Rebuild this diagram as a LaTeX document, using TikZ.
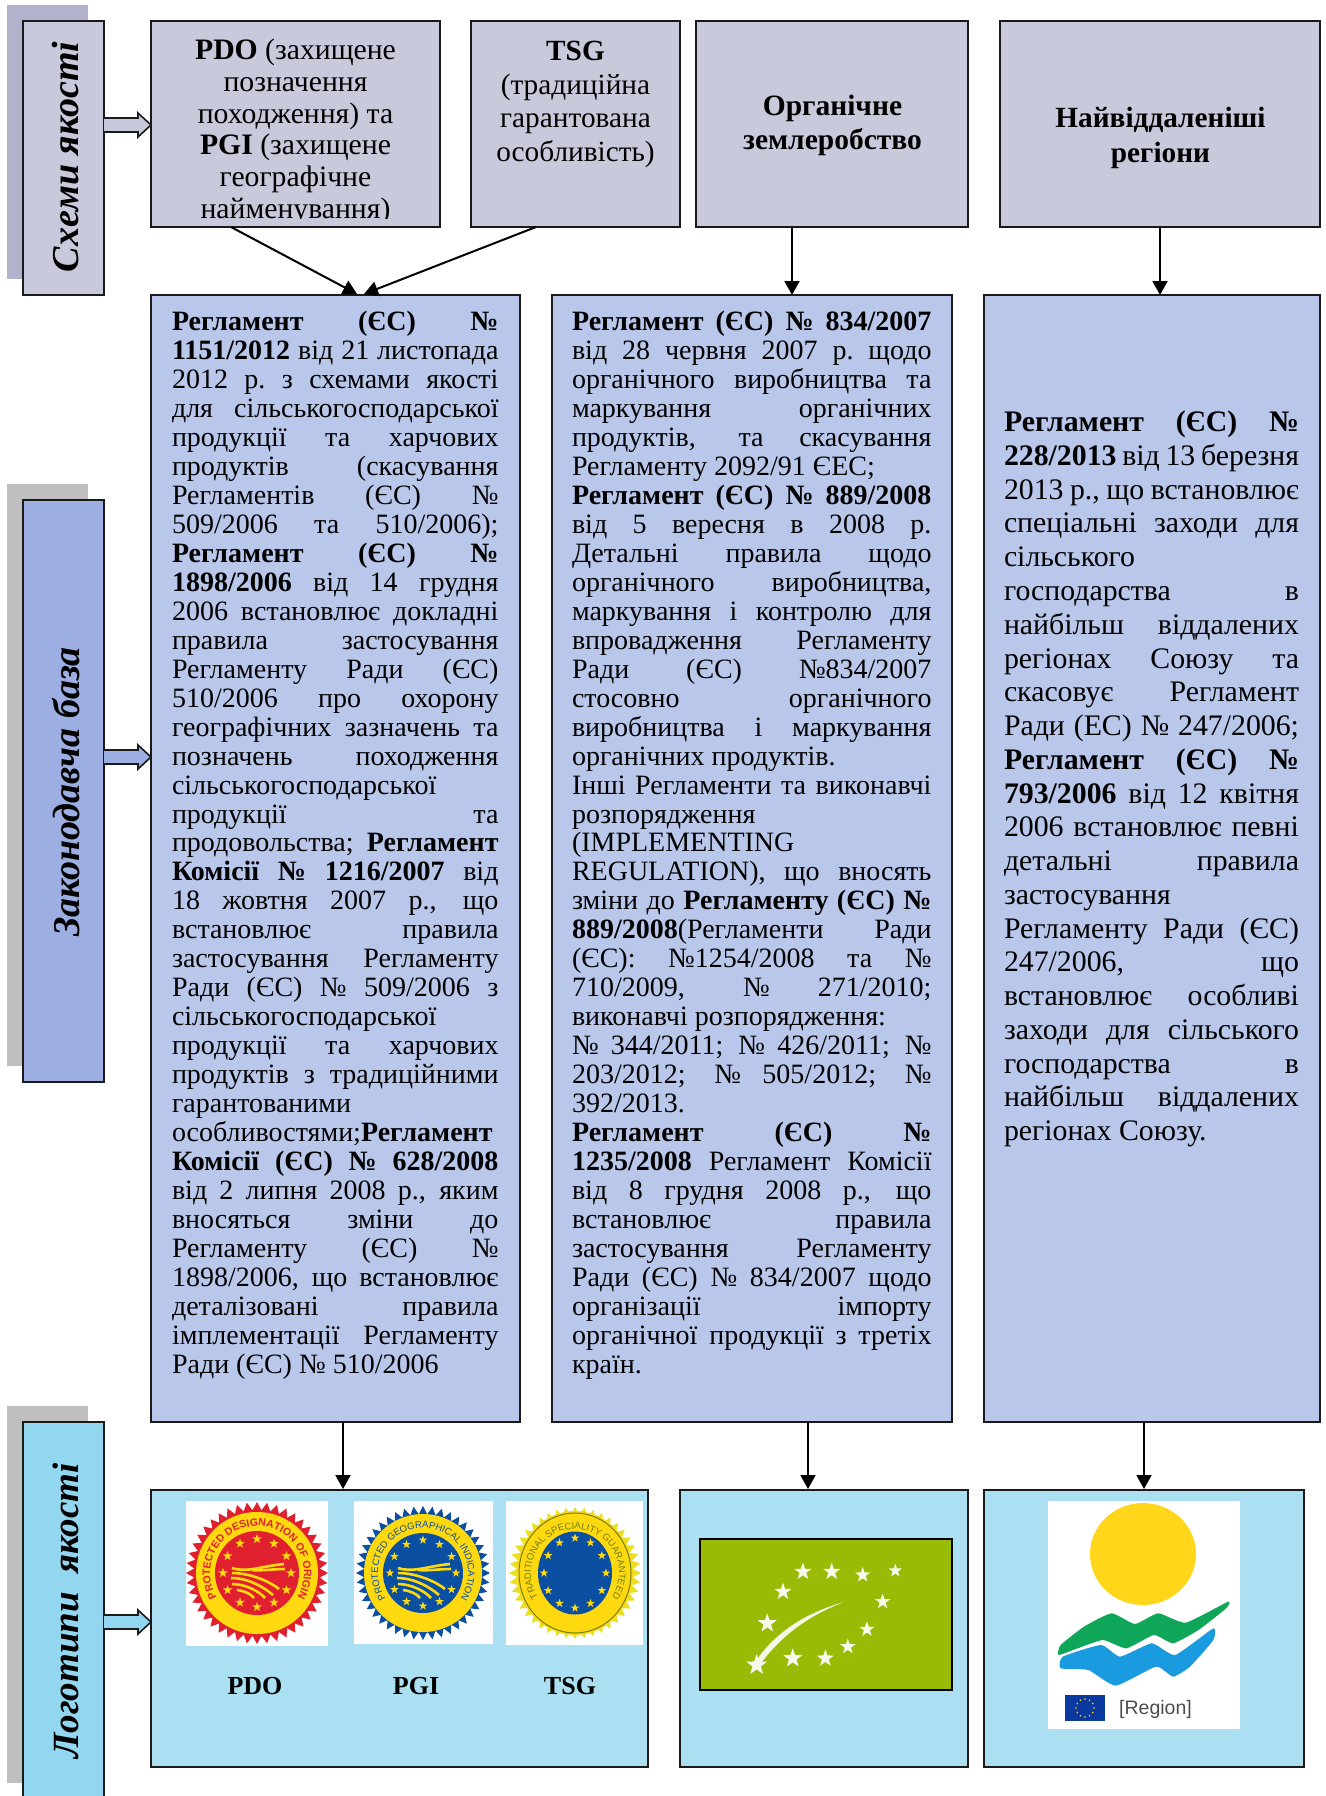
\documentclass[tikz,border=0pt]{standalone}
\usepackage{fontspec}
\setmainfont{Liberation Serif}
\newfontfamily\logosans{Liberation Sans}
\usetikzlibrary{arrows.meta,decorations.text}
\definecolor{topbox}{HTML}{C9C9DC}
\definecolor{topshadow}{HTML}{B2B2CC}
\definecolor{lawbox}{HTML}{B8C7EA}
\definecolor{lawlabel}{HTML}{9DAEE2}
\definecolor{greyshadow}{HTML}{BFBFBF}
\definecolor{logobox}{HTML}{ABE0F3}
\definecolor{logolabel}{HTML}{93D6F0}
\definecolor{edge}{HTML}{1A1A1A}
\definecolor{sealred}{HTML}{E1202F}
\definecolor{sealyellow}{HTML}{FFD90F}
\definecolor{sealblue}{HTML}{0B4FA3}
\definecolor{sealolive}{HTML}{6F7F10}
\definecolor{sealpale}{HTML}{E8E020}
\definecolor{leafgreen}{HTML}{99BB06}
\definecolor{wavegreen}{HTML}{0FA65A}
\definecolor{waveblue}{HTML}{1A9BE0}
\definecolor{sunyellow}{HTML}{FFD61A}
\definecolor{euflag}{HTML}{0B3A9E}
\newcommand\JL[1]{\hbox to \hsize{\spaceskip=.25em plus 1fil minus .12em\xspaceskip=\spaceskip\rule{0pt}{20pt}\rule[-8pt]{0pt}{8pt}\ignorespaces #1}}
\newcommand\LF[1]{\hbox to \hsize{\rule{0pt}{20pt}\rule[-8pt]{0pt}{8pt}\ignorespaces #1\hss}}
\newcommand\CL[1]{\hbox to \hsize{\hss\rule{0pt}{20pt}\rule[-8pt]{0pt}{8pt}\ignorespaces #1\hss}}
\newcommand\textlines[2]{\vbox{\hsize=#1pt\relax #2}}
\newcommand\starat[4]{\fill[#4] plot[samples=11,domain=0:10,variable=\k] ({#1+#3*(1-0.6*mod(round(\k),2))*sin(36*\k)},{#2-#3*(1-0.6*mod(round(\k),2))*cos(36*\k)}) -- cycle;}
\newcommand\blockarrow[4]{%
  \coordinate (ba) at (0,#3);
  \path (#1.east|-ba) coordinate (bs) (#2.west|-ba) coordinate (be);
  \filldraw[draw=edge,line width=1.6pt,fill=#4,line join=miter]
    ([yshift=7pt]bs) -- ([xshift=-13pt,yshift=7pt]be) -- ([xshift=-13pt,yshift=12pt]be) -- (be)
    -- ([xshift=-13pt,yshift=-12pt]be) -- ([xshift=-13pt,yshift=-7pt]be) -- ([yshift=-7pt]bs);}
\newcommand\seal[4]{%
  \fill[#4] plot[samples=89,domain=0:88,variable=\k] ({#1+(#3-8*mod(round(\k),2))*cos(\k*4.0909)},{#2+(#3-8*mod(round(\k),2))*sin(\k*4.0909)}) -- cycle;}
\tikzset{
  x=1pt,y=-1pt,
  boxbase/.style={draw=edge,line width=1.8pt,anchor=north west,inner sep=0pt,outer sep=0pt},
  bodytext/.style={anchor=north west,inner sep=0pt,outer sep=0pt},
  vlabel/.style={rotate=90,inner sep=0pt,font=\bfseries\itshape\fontsize{38}{40}\selectfont},
  link/.style={line width=2pt,-{Triangle[length=14pt,width=15pt]}},
  sealname/.style={inner sep=0pt,font=\bfseries\fontsize{26}{30}\selectfont}
}
\begin{document}
\begin{tikzpicture}
\useasboundingbox (0,0) rectangle (1325,1796);
% shadows
\fill[topshadow] (7,5) rectangle (88,279);
\fill[greyshadow] (7,484) rectangle (88,1066);
\fill[greyshadow] (7,1406) rectangle (88,1783);
% left labels
\node[boxbase,fill=topbox,minimum width=81pt,minimum height=274pt] (labA) at (23,21) {};
\node[boxbase,fill=lawlabel,minimum width=81pt,minimum height=582pt] (labB) at (23,500) {};
\node[boxbase,fill=logolabel,minimum width=81pt,minimum height=400pt] (labC) at (23,1422) {};
\node[vlabel] (labAt) at (66,157) {Схеми якості};
\node[vlabel] (labBt) at (66,792) {Законодавча база};
\node[vlabel,font=\bfseries\itshape\fontsize{37}{40}\selectfont] (labCt) at (66,1611) {Логотипи\hspace{9pt} якості};
% top row
\node[boxbase,fill=topbox,minimum width=289pt,minimum height=206pt] (pdo) at (151,21) {};
\node[boxbase,fill=topbox,minimum width=209pt,minimum height=206pt] (tsg) at (471,21) {};
\node[boxbase,fill=topbox,minimum width=272pt,minimum height=206pt] (org) at (696,21) {};
\node[boxbase,fill=topbox,minimum width=320pt,minimum height=206pt] (reg) at (1000,21) {};
\begin{scope}
\clip (151,21) rectangle (440,218);
\node[bodytext,font=\fontsize{29.7}{31.75}\selectfont] (pdot) at (151,39) {\textlines{289}{%
\CL{\textbf{PDO} (захищене}%
\CL{позначення}%
\CL{походження) та}%
\CL{\textbf{PGI} (захищене}%
\CL{географічне}%
\CL{найменування)}}};
\end{scope}
\node[bodytext,font=\fontsize{29.3}{33.7}\selectfont] (tsgt) at (471,40.5) {\textlines{209}{%
\CL{\textbf{TSG}}%
\CL{(традиційна}%
\CL{гарантована}%
\CL{особливість)}}};
\node[bodytext,font=\bfseries\fontsize{29.5}{34}\selectfont] (orgt) at (696,95.5) {\textlines{273}{%
\CL{Органічне}%
\CL{землеробство}}};
\node[bodytext,font=\bfseries\fontsize{29.3}{35}\selectfont] (regt) at (1000,107) {\textlines{321}{%
\CL{Найвіддаленіші}%
\CL{регіони}}};
% law row
\node[boxbase,fill=lawbox,minimum width=369pt,minimum height=1127pt] (lawA) at (151,295) {};
\node[boxbase,fill=lawbox,minimum width=400pt,minimum height=1127pt] (lawB) at (552,295) {};
\node[boxbase,fill=lawbox,minimum width=336pt,minimum height=1127pt] (lawC) at (984,295) {};
\node[bodytext,font=\fontsize{28}{28.97}\selectfont] (lawAt) at (172,310.5) {\textlines{326.5}{%
\JL{\textbf{Регламент (ЄС) №}}%
\JL{\textbf{1151/2012} від 21 листопада}%
\JL{2012 р. з схемами якості}%
\JL{для сільськогосподарської}%
\JL{продукції та харчових}%
\JL{продуктів (скасування}%
\JL{Регламентів (ЄС) №}%
\JL{509/2006 та 510/2006);}%
\JL{\textbf{Регламент (ЄС) №}}%
\JL{\textbf{1898/2006} від 14 грудня}%
\JL{2006 встановлює докладні}%
\JL{правила застосування}%
\JL{Регламенту Ради (ЄС)}%
\JL{510/2006 про охорону}%
\JL{географічних зазначень та}%
\JL{позначень походження}%
\LF{сільськогосподарської}%
\JL{продукції та}%
\JL{продовольства; \textbf{Регламент}}%
\JL{\textbf{Комісії № 1216/2007} від}%
\JL{18 жовтня 2007 р., що}%
\JL{встановлює правила}%
\JL{застосування Регламенту}%
\JL{Ради (ЄС) № 509/2006 з}%
\LF{сільськогосподарської}%
\JL{продукції та харчових}%
\JL{продуктів з традиційними}%
\LF{гарантованими}%
\LF{особливостями;\textbf{Регламент}}%
\JL{\textbf{Комісії (ЄС) № 628/2008}}%
\JL{від 2 липня 2008 р., яким}%
\JL{вносяться зміни до}%
\JL{Регламенту (ЄС) №}%
\JL{1898/2006, що встановлює}%
\JL{деталізовані правила}%
\JL{імплементації Регламенту}%
\LF{Ради (ЄС) № 510/2006}}};
\node[bodytext,font=\fontsize{28}{28.97}\selectfont] (lawBt) at (572,310.5) {\textlines{359.5}{%
\JL{\textbf{Регламент (ЄС) № 834/2007}}%
\JL{від 28 червня 2007 р. щодо}%
\JL{органічного виробництва та}%
\JL{маркування органічних}%
\JL{продуктів, та скасування}%
\LF{Регламенту 2092/91 ЄЕС;}%
\JL{\textbf{Регламент (ЄС) № 889/2008}}%
\JL{від 5 вересня в 2008 р.}%
\JL{Детальні правила щодо}%
\JL{органічного виробництва,}%
\JL{маркування і контролю для}%
\JL{впровадження Регламенту}%
\JL{Ради (ЄС) №834/2007}%
\JL{стосовно органічного}%
\JL{виробництва і маркування}%
\LF{органічних продуктів.}%
\JL{Інші Регламенти та виконавчі}%
\LF{розпорядження}%
\LF{(IMPLEMENTING}%
\JL{REGULATION), що вносять}%
\JL{зміни до \textbf{Регламенту (ЄС) №}}%
\JL{\textbf{889/2008}(Регламенти Ради}%
\JL{(ЄС): №1254/2008 та №}%
\JL{710/2009, № 271/2010;}%
\LF{виконавчі розпорядження:}%
\JL{№ 344/2011; № 426/2011; №}%
\JL{203/2012; № 505/2012; №}%
\LF{392/2013.}%
\JL{\textbf{Регламент (ЄС) №}}%
\JL{\textbf{1235/2008} Регламент Комісії}%
\JL{від 8 грудня 2008 р., що}%
\JL{встановлює правила}%
\JL{застосування Регламенту}%
\JL{Ради (ЄС) № 834/2007 щодо}%
\JL{організації імпорту}%
\JL{органічної продукції з третіх}%
\LF{країн.}}};
\node[bodytext,font=\fontsize{29.8}{33.76}\selectfont] (lawCt) at (1004,411) {\textlines{295}{%
\JL{\textbf{Регламент (ЄС) №}}%
\JL{\textbf{228/2013} від 13 березня}%
\JL{2013 р., що встановлює}%
\JL{спеціальні заходи для}%
\LF{сільського}%
\JL{господарства в}%
\JL{найбільш віддалених}%
\JL{регіонах Союзу та}%
\JL{скасовує Регламент}%
\JL{Ради (ЕС) № 247/2006;}%
\JL{\textbf{Регламент (ЄС) №}}%
\JL{\textbf{793/2006} від 12 квітня}%
\JL{2006 встановлює певні}%
\JL{детальні правила}%
\LF{застосування}%
\JL{Регламенту Ради (ЄС)}%
\JL{247/2006, що}%
\JL{встановлює особливі}%
\JL{заходи для сільського}%
\JL{господарства в}%
\JL{найбільш віддалених}%
\LF{регіонах Союзу.}}};
% logo row
\node[boxbase,fill=logobox,minimum width=497pt,minimum height=277pt] (logoA) at (151,1490) {};
\node[boxbase,fill=logobox,minimum width=288pt,minimum height=277pt] (logoB) at (680,1490) {};
\node[boxbase,fill=logobox,minimum width=320pt,minimum height=277pt] (logoC) at (984,1490) {};
% block arrows
\blockarrow{labA}{pdo}{125}{topbox}
\blockarrow{labB}{lawA}{757}{lawlabel}
\blockarrow{labC}{logoA}{1622}{logolabel}
% connectors
\draw[link] ([xshift=80pt]pdo.south west) -- ([xshift=206pt,yshift=1pt]lawA.north west);
\draw[link] ([xshift=65pt]tsg.south west) -- ([xshift=213pt,yshift=1pt]lawA.north west);
\draw[link] ([xshift=96pt]org.south west) -- ([xshift=240pt]lawB.north west);
\draw[link] ([xshift=160pt]reg.south west) -- ([xshift=176pt]lawC.north west);
\draw[link] ([xshift=192pt]lawA.south west) -- ([xshift=192pt,yshift=1pt]logoA.north west);
\draw[link] ([xshift=256pt]lawB.south west) -- ([xshift=128pt,yshift=1pt]logoB.north west);
\draw[link] ([xshift=160pt]lawC.south west) -- ([xshift=160pt,yshift=1pt]logoC.north west);
% PDO seal
\fill[white] (186,1501) rectangle (328,1646);
\seal{257}{1573}{71}{sealred}
\fill[sealyellow] (257,1573) circle[radius=61pt];
\fill[sealred] (257,1573) circle[radius=42pt];
\path[decorate,decoration={text along path,text align=center,text={|\logosans\bfseries\fontsize{10.5}{10}\selectfont\color{sealred}|PROTECTED DESIGNATION OF ORIGIN}}]
  (257,1573) ++(217:47pt) arc[start angle=217,end angle=-37,radius=47pt];
\foreach \a in {0,30,...,330}{\starat{257+34*cos(\a)}{1573+34*sin(\a)}{5}{sealyellow}}
\begin{scope}[shift={(257,1573)},sealyellow,line width=2.6pt]
\draw (-25,-5) .. controls (-10,0) and (5,-7) .. (27,-9);
\draw (-5,-3) .. controls (5,-2) and (15,-4) .. (28,-4);
\draw (-25,0) .. controls (-5,0) and (15,10) .. (22,16);
\draw (-26,5) .. controls (-8,5) and (8,15) .. (16,22);
\draw (-25,11) .. controls (-12,11) and (2,18) .. (8,25);
\draw (-20,17) .. controls (-12,18) and (-6,21) .. (-3,25);
\end{scope}
% PGI seal
\fill[white] (354,1501) rectangle (493,1644);
\seal{423}{1573}{67}{sealblue}
\fill[sealyellow] (423,1573) circle[radius=59pt];
\fill[sealblue] (423,1573) circle[radius=40pt];
\path[decorate,decoration={text along path,text align=center,text={|\logosans\fontsize{9.5}{10}\selectfont\color{sealblue}|PROTECTED GEOGRAPHICAL INDICATION}}]
  (423,1573) ++(217:45pt) arc[start angle=217,end angle=-37,radius=45pt];
\foreach \a in {0,30,...,330}{\starat{423+33*cos(\a)}{1573+33*sin(\a)}{4.5}{sealyellow}}
\begin{scope}[shift={(423,1573)},sealyellow,line width=2.6pt]
\draw (-25,-5) .. controls (-10,0) and (5,-7) .. (27,-9);
\draw (-5,-3) .. controls (5,-2) and (15,-4) .. (28,-4);
\draw (-25,0) .. controls (-5,0) and (15,10) .. (22,16);
\draw (-26,5) .. controls (-8,5) and (8,15) .. (16,22);
\draw (-25,11) .. controls (-12,11) and (2,18) .. (8,25);
\draw (-20,17) .. controls (-12,18) and (-6,21) .. (-3,25);
\end{scope}
% TSG seal
\fill[white] (506,1501) rectangle (643,1645);
\seal{575}{1573}{66}{sealpale}
\fill[sealyellow] (575,1573) ellipse[x radius=58pt,y radius=62pt];
\draw[sealolive,line width=1pt] (575,1573) ellipse[x radius=56pt,y radius=60pt];
\fill[sealblue] (575,1573) ellipse[x radius=37pt,y radius=41.5pt];
\path[decorate,decoration={text along path,text align=center,text={|\logosans\fontsize{9.5}{10}\selectfont\color{sealolive}|TRADITIONAL SPECIALITY GUARANTEED}}]
  (575,1573) ++(217:44pt) arc[start angle=217,end angle=-37,radius=44pt];
\foreach \a in {0,30,...,330}{\starat{575+31*cos(\a)}{1573+35*sin(\a)}{4.5}{sealyellow}}
\node[sealname] (pdoname) at (255,1686) {PDO};
\node[sealname] (pginame) at (416,1686) {PGI};
\node[sealname] (tsgname) at (570,1686) {TSG};
% organic leaf
\filldraw[draw=black,line width=1.8pt,fill=leafgreen] (700,1539) rectangle (952,1690);
\begin{scope}[shift={(660,1400)},x=.424pt,y=-.3333pt]
\fill[white!90!leafgreen] (225,785) .. controls (270,700) and (340,640) .. (432,607) .. controls (345,650) and (285,710) .. (238,790) -- cycle;
\end{scope}
\foreach \u/\v/\r in {337/515/9,405/515/9,478/525/8,555/512/7,290/575/9,525/605/8,253/670/10,488/688/8,443/740/8,390/775/9,313/775/10,228/795/11}{
  \starat{660+\u*.424}{1400+\v/3}{\r}{white!92!leafgreen}}
% outermost regions logo
\fill[white] (1048,1501) rectangle (1240,1729);
\fill[sunyellow] (1143,1554) ellipse[x radius=53pt,y radius=51pt];
\begin{scope}[shift={(660,1400)},x=.424pt,y=-.3333pt]
\fill[wavegreen] plot[smooth cycle,tension=.3] coordinates {(940,765) (945,735) (1000,680) (1065,640) (1120,672) (1175,640) (1240,668) (1340,605) (1335,625) (1270,690) (1210,730) (1165,705) (1100,745) (1045,720) (985,745)};
\fill[waveblue] plot[smooth cycle,tension=.3] coordinates {(945,805) (950,770) (1040,735) (1085,770) (1160,730) (1215,765) (1305,685) (1305,720) (1250,800) (1210,830) (1170,800) (1075,857) (1010,810)};
\end{scope}
\fill[euflag] (1065,1695) rectangle (1105,1721);
\foreach \a in {0,30,...,330}{\fill[sunyellow] ({1085+9*cos(\a)},{1708+9*sin(\a)}) circle[radius=.9pt];}
\node[inner sep=0pt,anchor=west,text=black!70,font=\logosans\fontsize{19.5}{20}\selectfont] (regionname) at (1119,1709) {[Region]};
\end{tikzpicture}
\end{document}
